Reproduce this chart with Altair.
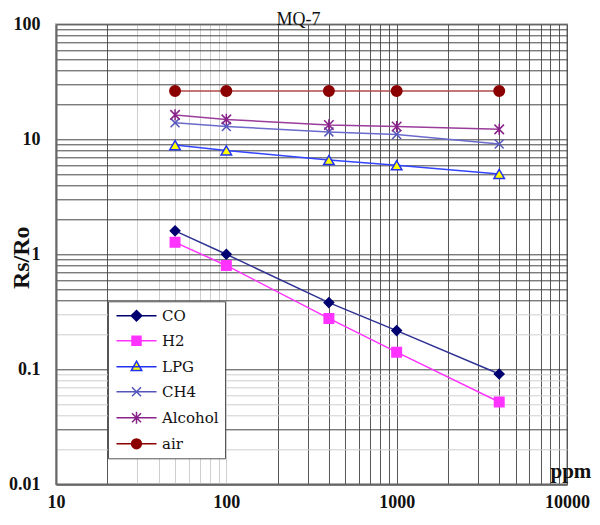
import altair as alt
import pandas as pd

# ---- data ----
ppm = [50, 100, 400, 1000, 4000]
series_names = ["CO", "H2", "LPG", "CH4", "Alcohol", "air"]
co = [1.60, 1.00, 0.38, 0.217, 0.091]
h2 = [1.27, 0.80, 0.277, 0.141, 0.052]
lpg = [8.9, 8.0, 6.6, 5.95, 5.0]
ch4 = [13.9, 12.9, 11.6, 11.0, 9.1]
alcohol = [16.3, 14.9, 13.3, 12.9, 12.2]
air = [26.3, 26.3, 26.3, 26.3, 26.3]

line_colors = ["#2e3192", "#ff33ff", "#3344ff", "#6a6acc", "#9a3c9a", "#b04a4a"]
stroke_colors = ["#000070", "#ff33ff", "#2233ee", "#5555bb", "#882288", "#8b0000"]
fill_colors = ["#000070", "#ff33ff", "#ffff00", "#5555bb", "#882288", "#8b0000"]

cross = "M-1,-1L1,1M-1,1L1,-1"
asterisk = "M-1,-1L1,1M-1,1L1,-1M0,-1.2L0,1.2"
marker_shapes = ["diamond", "square", "triangle-up", cross, asterisk, "circle"]
marker_sizes = [90, 90, 110, 80, 90, 110]

L = "M-2.67,0H2.67"
legend_shapes = [
    L + "M0,-0.7L0.7,0L0,0.7L-0.7,0Z",
    L + "M-0.6,-0.6H0.6V0.6H-0.6Z",
    L + "M0,-0.75L0.7,0.5H-0.7Z",
    L + "M-0.6,-0.6L0.6,0.6M-0.6,0.6L0.6,-0.6",
    L + "M-0.6,-0.6L0.6,0.6M-0.6,0.6L0.6,-0.6M0,-0.8V0.8",
    L + "M0.65,0A0.65,0.65,0,1,1,-0.65,0A0.65,0.65,0,1,1,0.65,0Z",
]

x_grid = [10, 20, 30, 40, 50, 60, 70, 80, 90, 100, 200, 300, 400, 500, 600, 700, 800, 900,
          1000, 2000, 3000, 4000, 5000, 6000, 7000, 8000, 9000, 10000]
y_grid = [0.01, 0.02, 0.03, 0.04, 0.05, 0.06, 0.07, 0.08, 0.09, 0.1, 0.2, 0.3, 0.4, 0.5, 0.6,
          0.7, 0.8, 0.9, 1, 2, 3, 4, 5, 6, 7, 8, 9, 10, 20, 30, 40, 50, 60, 70, 80, 90, 100]

rows = []
for i, (name, vals) in enumerate(zip(series_names, [co, h2, lpg, ch4, alcohol, air])):
    for p, v in zip(ppm, vals):
        rows.append({"ppm": p, "ratio": v, "series": name, "order": i,
                     "lc": line_colors[i], "sc": stroke_colors[i], "fc": fill_colors[i],
                     "shape": marker_shapes[i], "size": marker_sizes[i]})
df = pd.DataFrame(rows)

serif = "Liberation Serif"
decade = "abs(log(datum.value)/LN10 - round(log(datum.value)/LN10)) < 1e-6"

xs = alt.Scale(type="log", domain=[10, 10000], nice=False)
ys = alt.Scale(type="log", domain=[0.01, 100], nice=False)

x_axis = alt.Axis(
    values=x_grid, labelExpr=f"{decade} ? format(datum.value, '~g') : ''",
    labelFont=serif, labelFontSize=18, labelFontWeight="bold", labelColor="#111",
    labelPadding=9, labelFlush=False, labelOverlap=False, ticks=False, tickSize=0,
    grid=True, gridWidth=1,
    gridColor={"condition": {"test": "(datum.value >= 30 && datum.value <= 100)", "value": "#cfcfcf"},
               "value": "#555555"},
    domainColor="#666666", domainWidth=2,
    title="ppm", titleFont=serif, titleFontSize=21, titleFontWeight="bold", titleColor="#111",
    titleX=494, titleY=-7, titleAlign="left", titleBaseline="alphabetic",
)
top_axis = alt.Axis(
    orient="top", domain=False, grid=False, labels=False, ticks=False,
    title="MQ-7", titleFont=serif, titleFontSize=18, titleFontWeight="normal", titleColor="#111",
    titleX=242, titleY=0, titleAlign="center", titleBaseline="alphabetic",
)
y_axis = alt.Axis(
    values=y_grid, labelExpr=f"{decade} ? format(datum.value, '~g') : ''",
    labelFont=serif, labelFontSize=18, labelFontWeight="bold", labelColor="#111",
    labelPadding=16, labelFlush=False, labelOverlap=False, ticks=False, tickSize=0,
    grid=True, gridWidth=1,
    gridColor={"condition": {"test": "(datum.value > 0.15 && datum.value < 0.35) || (datum.value > 0.035 && datum.value < 0.095) || (datum.value > 0.015 && datum.value < 0.025)",
                             "value": "#cfcfcf"},
               "value": "#444444"},
    domainColor="#666666", domainWidth=2,
    title="Rs/Ro", titleFont=serif, titleFontSize=24, titleFontWeight="bold", titleColor="#111",
    titleX=-35, titleY=233, titleAngle=270, titleAlign="center", titleBaseline="middle",
)

base = alt.Chart(df)

lines = base.mark_line(strokeWidth=1.5).encode(
    x=alt.X("ppm:Q", scale=xs, axis=x_axis),
    y=alt.Y("ratio:Q", scale=ys, axis=y_axis),
    detail="series:N",
    stroke=alt.Stroke("lc:N", scale=None),
    order="ppm:Q",
)

points = base.mark_point(strokeWidth=1.5, opacity=1).encode(
    x=alt.X("ppm:Q", scale=xs, axis=None),
    y=alt.Y("ratio:Q", scale=ys),
    shape=alt.Shape("shape:N", scale=None),
    stroke=alt.Stroke("sc:N", scale=None),
    fill=alt.Fill("fc:N", scale=None),
    size=alt.Size("size:Q", scale=None),
)

legend = alt.Legend(
    title=None, orient="none", legendX=52, legendY=277,
    padding=6, strokeColor="#555555", fillColor="#ffffff",
    symbolSize=225, symbolStrokeWidth=1.5, symbolOffset=14,
    labelFont="DejaVu Serif", labelFontSize=15, labelColor="#111", labelOffset=17,
    rowPadding=8, labelLimit=200,
)

legend_layer = base.transform_filter("false").mark_point(strokeWidth=1.5, opacity=1).encode(
    x=alt.X("ppm:Q", scale=xs, axis=top_axis),
    y=alt.Y("ratio:Q", scale=ys),
    shape=alt.Shape("series:N", scale=alt.Scale(domain=series_names, range=legend_shapes), legend=legend),
    stroke=alt.Stroke("series:N", scale=alt.Scale(domain=series_names, range=stroke_colors), legend=legend),
    fill=alt.Fill("series:N", scale=alt.Scale(domain=series_names, range=fill_colors), legend=legend),
)

chart = alt.layer(lines, points, legend_layer).resolve_axis(x="independent").properties(
    width=511, height=460,
    autosize=alt.AutoSizeParams(type="none"),
    padding={"left": 48, "top": 16.3, "right": 25, "bottom": 27},
).configure_view(stroke="#b5b5b5", strokeWidth=2)

chart.save("out.html", embed_options={"renderer": "svg", "actions": False})
